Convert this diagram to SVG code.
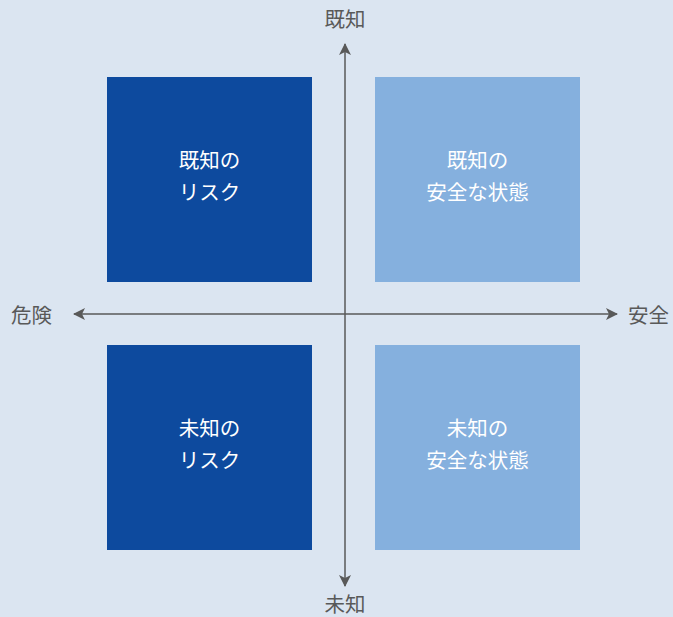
<svg xmlns="http://www.w3.org/2000/svg" width="673" height="617" viewBox="0 0 673 617">
<style>
.bg{fill:#dbe5f1}
.dark{fill:#0d4a9e}
.light{fill:#85b0de}
.t{font-family:"Noto Sans CJK JP","Noto Sans",sans-serif;font-size:20.5px;fill:#ffffff;text-anchor:middle}
.ax{font-family:"Noto Sans CJK JP","Noto Sans",sans-serif;font-size:20.5px;fill:#595959}
.line{stroke:#595959;stroke-width:1.5;fill:none}
</style>
<defs>
<marker id="arr" viewBox="0 0 12 12" refX="11" refY="6" markerWidth="12" markerHeight="12" markerUnits="userSpaceOnUse" orient="auto">
<path d="M0,0 L12,6 L0,12 L3,6 Z" fill="#595959"/>
</marker>
</defs>
<rect class="bg" x="0" y="0" width="673" height="617"/>
<g id="connectors">
<line class="line" x1="345" y1="314" x2="345" y2="44" marker-end="url(#arr)"/>
<line class="line" x1="345" y1="314" x2="345" y2="586" marker-end="url(#arr)"/>
<line class="line" x1="345" y1="314" x2="74" y2="314" marker-end="url(#arr)"/>
<line class="line" x1="345" y1="314" x2="617" y2="314" marker-end="url(#arr)"/>
</g>
<g id="known-risk">
<rect class="dark" x="107" y="77" width="205" height="205"/>
<text class="t" x="209.5" y="168">既知の</text>
<text class="t" x="209.5" y="200">リスク</text>
</g>
<g id="known-safe">
<rect class="light" x="375" y="77" width="205" height="205"/>
<text class="t" x="477.5" y="168">既知の</text>
<text class="t" x="477.5" y="200">安全な状態</text>
</g>
<g id="unknown-risk">
<rect class="dark" x="107" y="345" width="205" height="205"/>
<text class="t" x="209.5" y="436">未知の</text>
<text class="t" x="209.5" y="468">リスク</text>
</g>
<g id="unknown-safe">
<rect class="light" x="375" y="345" width="205" height="205"/>
<text class="t" x="477.5" y="436">未知の</text>
<text class="t" x="477.5" y="468">安全な状態</text>
</g>
<g id="labels">
<text class="ax" x="345" y="27" text-anchor="middle">既知</text>
<text class="ax" x="345" y="612" text-anchor="middle">未知</text>
<text class="ax" x="11" y="323">危険</text>
<text class="ax" x="628" y="323">安全</text>
</g>
</svg>
